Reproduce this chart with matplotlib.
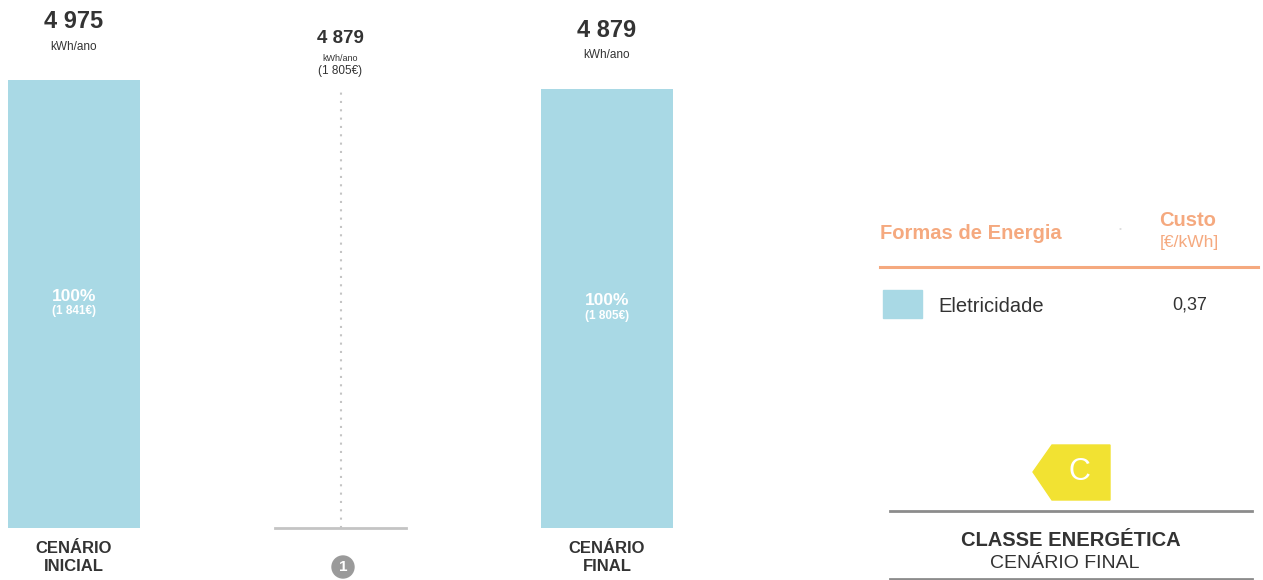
import matplotlib.pyplot as plt
from matplotlib.patches import Circle, Polygon, Rectangle

plt.rcParams["font.family"] = ["Liberation Sans", "DejaVu Sans"]

# ---------------------------------------------------------------------------
# Data
# ---------------------------------------------------------------------------
scenarios = ["CENÁRIO\nINICIAL", "1", "CENÁRIO\nFINAL"]
consumption = [4975, 4879, 4879]          # kWh/ano
costs = ["1 841€", "1 805€", "1 805€"]
shares = ["100%", None, "100%"]
is_bar = [True, False, True]

energy_forms = ["Eletricidade"]
energy_prices = ["0,37"]
energy_class = "C"

BAR_COLOR = "#a9d9e5"
ORANGE = "#f5a97f"
DARK = "#333333"
GREY = "#8c8c8c"
YELLOW = "#f2e232"

W, H = 1263, 580
fig = plt.figure(figsize=(W / 100, H / 100), dpi=100)

# Bar axes: scenario index on x, kWh on y (scaled to match reference layout)
px_per_unit = 266.5
x0_px = 74
px_per_kwh = 448 / 4975
base_px = 528  # from top
ax = fig.add_axes([0, 0, 1, 1])
ax.set_xlim(-x0_px / px_per_unit, (W - x0_px) / px_per_unit)
ax.set_ylim(-(H - base_px) / px_per_kwh, base_px / px_per_kwh)
ax.axis("off")

width = 132 / px_per_unit
for i, (val, cost, share, bar) in enumerate(zip(consumption, costs, shares, is_bar)):
    if bar:
        ax.bar(i, val, width, color=BAR_COLOR, zorder=2)
        ax.annotate(f"{val:,}".replace(",", " "), (i, val), xytext=(0, 42),
                    textcoords="offset points", ha="center", va="center",
                    fontsize=17, fontweight="bold", color=DARK)
        ax.annotate("kWh/ano", (i, val), xytext=(0, 24), textcoords="offset points",
                    ha="center", va="center", fontsize=8.5, color=DARK)
        ax.text(i, val * 0.5 + 85, share, ha="center", va="center", fontsize=12.5,
                fontweight="bold", color="white")
        ax.text(i, val * 0.5 - 80, f"({cost})", ha="center", va="center", fontsize=8.5,
                fontweight="bold", color="white")
        ax.text(i, -330, scenarios[i], ha="center", va="center", fontsize=12,
                fontweight="bold", color=DARK, linespacing=1.25)
    else:
        ax.plot([i, i], [0, val], color="#c4c4c4", linestyle=(0, (1, 3)), lw=1.5, zorder=1)
        ax.plot([i - width / 2, i + width / 2], [0, 0], color="#c4c4c4", lw=2)
        ax.annotate(f"{val:,}".replace(",", " "), (i, val), xytext=(0, 36),
                    textcoords="offset points", ha="center", va="center",
                    fontsize=13.5, fontweight="bold", color=DARK)
        ax.annotate("kWh/ano", (i, val), xytext=(0, 22), textcoords="offset points",
                    ha="center", va="center", fontsize=6.5, color=DARK)
        ax.annotate(f"({cost})", (i, val), xytext=(0, 13), textcoords="offset points",
                    ha="center", va="center", fontsize=8.5, color=DARK)
        circ = Circle((343, H - 567), 11, transform=None, color="#9a9a9a")
        fig.add_artist(circ)
        fig.text(343 / W, 1 - 567 / H, scenarios[i], ha="center", va="center",
                 fontsize=11, fontweight="bold", color="white")


# ---------------------------------------------------------------------------
# Right panel: energy forms table and energy class
# ---------------------------------------------------------------------------
def fx(p):
    return p / W


def fy(p):
    return 1 - p / H


fig.text(fx(880), fy(233), "Formas de Energia", ha="left", va="center",
         fontsize=14.5, fontweight="bold", color=ORANGE)
fig.text(fx(1120), fy(229), "•", ha="center", va="center", fontsize=6, color="#dddddd")
fig.text(fx(1188), fy(221), "Custo", ha="center", va="center",
         fontsize=14.5, fontweight="bold", color=ORANGE)
fig.text(fx(1189), fy(243), "[€/kWh]", ha="center", va="center", fontsize=12.5, color=ORANGE)
fig.add_artist(plt.Line2D([fx(880), fx(1258)], [fy(267), fy(267)], color=ORANGE, lw=2.2))

for k, (name, price) in enumerate(zip(energy_forms, energy_prices)):
    yrow = 304 + k * 40
    fig.add_artist(Rectangle((883, H - yrow - 14), 39, 28, transform=None, color=BAR_COLOR))
    fig.text(fx(938), fy(yrow + 3), name, ha="left", va="center", fontsize=14.5, color=DARK)
    fig.text(fx(1190), fy(yrow + 1), price, ha="center", va="center", fontsize=13, color=DARK)

tag = [(1033, 472), (1052, 445), (1110, 445), (1110, 500), (1052, 500)]
fig.add_artist(Polygon([(x, H - y) for x, y in tag], closed=True, transform=None,
                       color=YELLOW))
fig.text(fx(1079), fy(472), energy_class, ha="center", va="center", fontsize=22, color="white")

fig.add_artist(plt.Line2D([fx(890), fx(1252)], [fy(511), fy(511)], color=GREY, lw=2))
fig.text(fx(1071), fy(540), "CLASSE ENERGÉTICA", ha="center", va="center",
         fontsize=14.5, fontweight="bold", color=DARK)
fig.text(fx(1065), fy(563), "CENÁRIO FINAL", ha="center", va="center",
         fontsize=14, color=DARK)
fig.add_artist(plt.Line2D([fx(890), fx(1252)], [fy(579), fy(579)], color=GREY, lw=2))

fig.savefig("out.png", dpi=100, facecolor="white")
